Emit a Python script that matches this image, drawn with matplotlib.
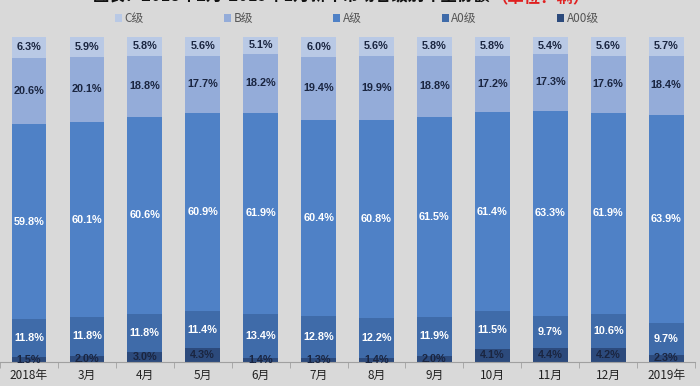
import matplotlib
matplotlib.use("Agg")
import matplotlib.pyplot as plt
import numpy as np

plt.rcParams['font.family'] = ['Noto Sans CJK SC', 'DejaVu Sans']

categories = ['2018年', '3月', '4月', '5月', '6月', '7月', '8月', '9月', '10月', '11月', '12月', '2019年']
series_names = ['A00级', 'A0级', 'A级', 'B级', 'C级']
a00 = [1.5, 2.0, 3.0, 4.3, 1.4, 1.3, 1.4, 2.0, 4.1, 4.4, 4.2, 2.3]
a0 = [11.8, 11.8, 11.8, 11.4, 13.4, 12.8, 12.2, 11.9, 11.5, 9.7, 10.6, 9.7]
a = [59.8, 60.1, 60.6, 60.9, 61.9, 60.4, 60.8, 61.5, 61.4, 63.3, 61.9, 63.9]
b = [20.6, 20.1, 18.8, 17.7, 18.2, 19.4, 19.9, 18.8, 17.2, 17.3, 17.6, 18.4]
c = [6.3, 5.9, 5.8, 5.6, 5.1, 6.0, 5.6, 5.8, 5.8, 5.4, 5.6, 5.7]

series = [a00, a0, a, b, c]
colors = ['#2c4a7c', '#3f6ba9', '#4f81c6', '#94acd9', '#b9c9e5']
label_colors = ['#1a2540', 'white', 'white', '#1a2540', '#1a2540']

bg = '#d9d9d9'
fig = plt.figure(figsize=(7.0, 3.86), dpi=100, facecolor=bg)
ax = fig.add_axes([0.0, 0.062, 0.993, 0.842], facecolor=bg)

x = np.arange(len(categories))
bottom = np.zeros(len(categories))
handles = []
for vals, col, lc, name in zip(series, colors, label_colors, series_names):
    vals = np.array(vals)
    bars = ax.bar(x, vals, 0.6, bottom=bottom, color=col, label=name, zorder=2)
    handles.append(bars)
    for xi, v, bt in zip(x, vals, bottom):
        ax.text(xi, bt + v / 2, f'{v:.1f}%', ha='center', va='center',
                fontsize=7.8, fontweight='bold', color=lc, zorder=3,
                family=['Liberation Sans'])
    bottom += vals

ax.set_xlim(-0.5, len(categories) - 0.5)
ax.set_ylim(0, 100)
ax.set_yticks([])
for s in ['top', 'right', 'left']:
    ax.spines[s].set_visible(False)
ax.spines['bottom'].set_color('#a0a0a0')
ax.set_xticks(x)
ax.set_xticklabels(categories, fontsize=8.5, color='#222222')
ax.tick_params(axis='x', length=0, pad=5)
ax.set_xticks(np.arange(-0.5, len(categories), 1), minor=True)
ax.tick_params(axis='x', which='minor', length=4, color='#a0a0a0')

order = [4, 3, 2, 1, 0]
leg = fig.legend([handles[i] for i in order], [series_names[i] for i in order],
                 loc='center', bbox_to_anchor=(0.51, 0.952), ncol=5, frameon=False,
                 fontsize=8.5, handlelength=0.6, handleheight=0.6, handletextpad=0.2,
                 columnspacing=6.8, labelcolor='#555555')

fig.text(0.701, 1.008, '图表：2018年2月-2019年1月新车市场各级别车型份额', ha='right', va='center',
         fontsize=11.8, fontweight='bold', color='#111111')
fig.text(0.701, 1.008, '（单位：辆）', ha='left', va='center',
         fontsize=11.8, fontweight='bold', color='#e02020')

fig.savefig('out.png', dpi=100, facecolor=bg)
